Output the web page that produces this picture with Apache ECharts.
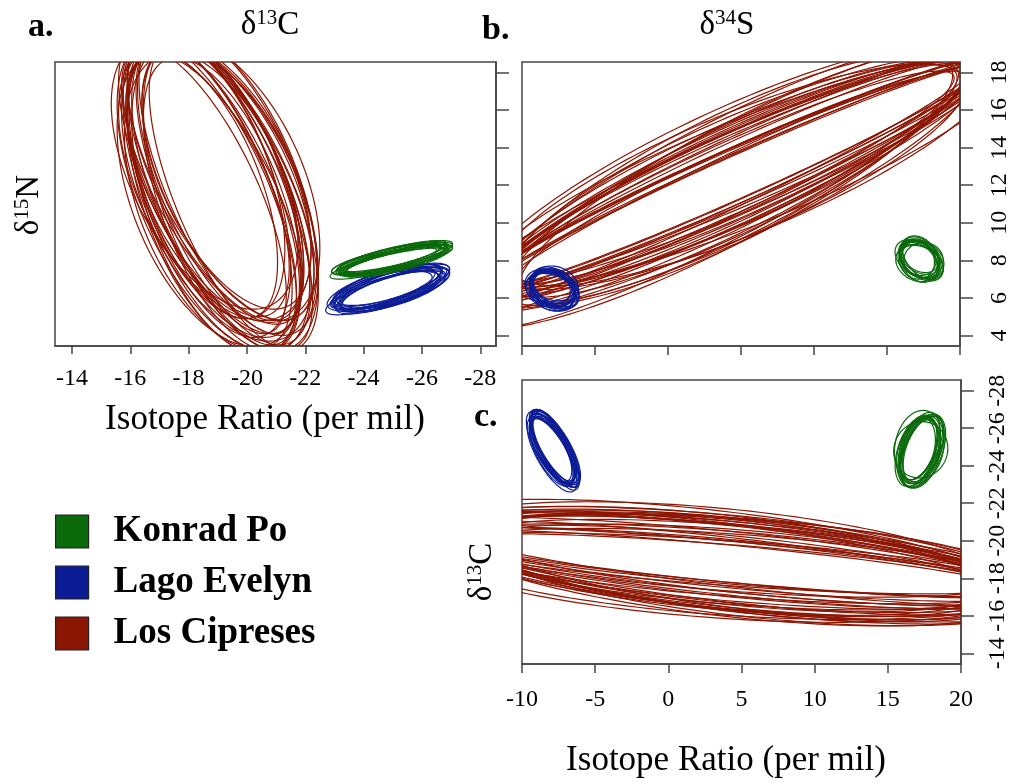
<!DOCTYPE html>
<html>
<head>
<meta charset="utf-8">
<script src="https://cdn.jsdelivr.net/npm/echarts@6/dist/echarts.min.js"></script>
<style>
html,body{margin:0;padding:0;background:#fff;}
#chart{width:1012px;height:783px;}
</style>
</head>
<body>
<div id="chart"></div>
<script>
// ---- Ellipse parameters: [centre x, centre y, sd x, sd y, correlation] ----
// Panel a: x = d13C, y = d15N
const aLosCipreses = [
  [-18.95,11.8,3.0,7.9,0.55],[-18.6,12.3,2.7,7.4,0.50],[-19.25,11.4,3.2,8.3,0.62],[-18.8,11.6,2.9,8.1,0.70],
  [-19.2,12.3,3.3,7.6,0.48],[-18.45,12.0,2.6,7.1,0.58],[-19.45,11.6,3.0,8.4,0.54],[-18.9,12.5,3.0,7.7,0.66],
  [-19.1,11.1,3.3,8.0,0.45],[-18.55,11.7,2.8,7.6,0.72],[-19.4,12.1,3.0,7.3,0.60],[-18.95,11.3,2.9,8.3,0.50],
  [-18.7,12.1,3.1,8.0,0.68],[-19.3,12.4,2.9,7.0,0.56],[-18.85,11.5,3.3,8.4,0.57],[-19.0,11.9,2.7,7.8,0.72],
  [-18.75,11.3,3.2,7.9,0.47],[-19.2,11.8,3.0,8.3,0.64],[-18.55,12.6,3.2,7.2,0.52],[-19.45,11.4,2.8,8.1,0.69],
  [-18.9,12.3,3.3,7.5,0.49],[-18.65,11.5,2.9,8.2,0.61],[-19.15,11.0,2.7,7.8,0.58],[-18.8,12.0,3.1,7.4,0.71],
  [-19.0,11.7,3.3,8.0,0.53],[-18.65,12.0,2.8,7.0,0.63],[-19.35,12.2,3.1,8.2,0.60],[-18.9,11.4,3.0,8.4,0.51],
  [-19.1,12.4,3.2,7.6,0.67],[-18.7,11.9,2.8,8.0,0.55]
];
const aLagoEvelyn = [
  [-24.85,6.5,1.85,1.15,-0.72],[-24.7,6.6,1.75,1.05,-0.68],[-25.0,6.4,1.95,1.25,-0.76],[-24.8,6.35,1.8,1.1,-0.70],
  [-24.95,6.6,2.0,1.2,-0.78],[-24.65,6.45,1.7,1.0,-0.64],[-25.05,6.55,1.9,1.3,-0.74],[-24.85,6.7,1.8,1.1,-0.69],
  [-24.75,6.3,2.05,1.2,-0.80],[-24.9,6.5,1.65,1.05,-0.62],[-25.1,6.45,1.85,1.15,-0.73],[-24.7,6.55,1.95,1.25,-0.71],
  [-24.9,6.4,1.75,1.0,-0.66],[-24.8,6.6,1.9,1.2,-0.75],[-25.0,6.35,1.8,1.1,-0.70],[-24.85,6.55,2.0,1.15,-0.77]
];
const aKonradPo = [
  [-25.0,8.05,1.85,0.8,-0.80],[-24.85,8.1,1.75,0.75,-0.78],[-25.1,8.0,1.95,0.85,-0.83],[-24.95,7.95,1.8,0.8,-0.76],
  [-25.05,8.15,2.0,0.9,-0.82],[-24.8,8.0,1.7,0.7,-0.74],[-25.15,8.1,1.9,0.85,-0.85],[-25.0,8.2,1.8,0.8,-0.79],
  [-24.9,7.9,2.05,0.9,-0.84],[-25.1,8.05,1.65,0.75,-0.72],[-25.2,8.0,1.85,0.8,-0.81],[-24.85,8.05,1.95,0.85,-0.77],
  [-25.05,7.95,1.75,0.7,-0.80],[-24.95,8.15,1.9,0.9,-0.83],[-25.1,7.9,1.8,0.8,-0.78],[-24.9,8.1,2.0,0.85,-0.80]
];
// Panel b: x = d34S, y = d15N
const bLosCipreses = [
  [4.5,12.4,17,6.01,0.976],[3.6,12.1,16,5.98,0.936],[5.4,12.7,18,6.18,0.874],[4.0,12.3,15.5,6.70,0.833],
  [5.0,12.5,17.5,6.02,0.959],[3.2,11.9,18.5,6.89,0.926],[5.9,12.8,16.5,6.14,0.833],[4.3,12.2,17,6.47,0.972],
  [4.8,12.6,16,5.87,0.913],[3.8,12.0,18,7.71,0.910],[5.2,12.4,15.5,5.68,0.942],[4.1,12.5,17.5,7.06,0.843],
  [4.6,12.3,18.5,6.62,0.978],[3.4,11.95,16.5,6.57,0.904],[5.6,12.9,17,6.03,0.930],[4.4,12.45,16,6.00,0.813],
  [5.1,12.6,18,6.33,0.967],[3.9,12.2,17,6.45,0.922],[4.7,12.35,15.5,6.31,0.872],[4.2,12.15,18.5,6.63,0.962],
  [5.5,12.7,16.5,6.23,0.901],[3.5,12.0,17.5,7.64,0.882],[4.9,12.5,17,5.99,0.979],[4.5,12.6,16,6.02,0.877],
  [3.7,12.1,18,6.78,0.956],[5.3,12.55,15.5,6.75,0.873],[4.0,12.25,17.5,6.14,0.969],[5.7,12.75,18.5,6.87,0.942],
  [3.3,11.85,16.5,6.58,0.890],[4.6,12.4,17,6.42,0.914]
];
const bLagoEvelyn = [
  [-7.9,6.5,1.55,0.95,-0.25],[-8.05,6.6,1.45,0.9,-0.15],[-7.75,6.4,1.65,1.0,-0.35],[-7.95,6.35,1.5,1.05,-0.2],
  [-7.8,6.6,1.7,0.9,-0.3],[-8.1,6.45,1.4,0.95,-0.1],[-7.7,6.55,1.6,1.1,-0.4],[-7.9,6.7,1.5,0.85,-0.25],
  [-8.0,6.3,1.75,1.0,-0.3],[-7.85,6.5,1.45,1.05,-0.05],[-7.65,6.45,1.55,0.9,-0.45],[-8.15,6.55,1.65,1.0,-0.2],
  [-7.9,6.4,1.5,0.95,-0.35],[-7.75,6.65,1.6,1.05,-0.15],[-8.0,6.5,1.7,0.9,-0.25],[-7.85,6.35,1.45,1.0,-0.3]
];
const bKonradPo = [
  [17.25,8.05,1.35,1.0,-0.3],[17.1,8.15,1.25,0.95,-0.2],[17.4,7.95,1.45,1.05,-0.4],[17.2,8.2,1.3,1.1,-0.25],
  [17.35,7.9,1.5,0.9,-0.35],[17.05,8.0,1.2,1.0,-0.1],[17.45,8.1,1.4,1.15,-0.45],[17.25,8.25,1.3,0.9,-0.3],
  [17.15,7.85,1.55,1.0,-0.2],[17.3,8.05,1.25,1.05,-0.5],[17.5,8.0,1.35,0.95,0.0],[17.0,8.1,1.45,1.0,-0.35],
  [17.3,7.95,1.3,1.1,-0.15],[17.2,8.15,1.4,0.9,-0.4],[17.4,8.05,1.5,1.0,-0.25],[17.1,7.9,1.35,1.05,-0.3]
];
// Panel c: x = d34S, y = d13C
const cLosCipreses = [
  [4.5,-18.75,20,1.80,0.832],[3.6,-18.95,19,1.96,0.580],[5.4,-18.55,21,2.99,0.597],[4.0,-18.55,21,2.90,0.362],
  [5.0,-18.8,20.5,2.26,0.817],[3.2,-19.1,22,2.46,0.581],[5.9,-18.5,19.5,3.03,0.515],[4.3,-18.8,20,1.63,0.675],
  [4.8,-18.6,18.5,2.82,0.624],[3.8,-18.9,21.5,2.92,0.516],[5.2,-18.7,19,2.14,0.711],[4.1,-18.65,20,3.19,0.533],
  [4.6,-18.85,22,1.89,0.814],[3.4,-18.95,18.5,2.74,0.541],[5.6,-18.5,20,2.16,0.555],[4.4,-18.6,21,2.80,0.375],
  [5.1,-18.6,21,2.11,0.747],[3.9,-18.85,20.5,2.80,0.660],[4.7,-18.7,18,2.75,0.490],[4.2,-18.8,22,2.45,0.719],
  [5.5,-18.55,19.5,2.59,0.527],[3.5,-19.0,21,3.21,0.588],[4.9,-18.7,20,1.67,0.778],[4.5,-18.6,18.5,2.29,0.485],
  [3.7,-18.95,21.5,2.56,0.671],[5.3,-18.65,19,2.98,0.542],[4.0,-18.75,20.5,1.98,0.776],[5.7,-18.5,22,2.83,0.583],
  [3.3,-19.05,19.5,3.03,0.451],[4.6,-18.75,20,2.58,0.581]
];
const cLagoEvelyn = [
  [-7.85,-24.85,1.6,1.9,0.72],[-8.0,-24.7,1.5,1.8,0.68],[-7.7,-25.0,1.7,2.0,0.76],[-7.9,-24.95,1.55,1.85,0.70],
  [-7.75,-24.75,1.65,2.05,0.78],[-8.05,-24.9,1.45,1.75,0.66],[-7.65,-24.8,1.6,1.95,0.75],[-7.85,-25.1,1.55,1.9,0.71],
  [-7.95,-24.6,1.7,2.0,0.73],[-7.8,-24.85,1.5,1.8,0.64],[-8.1,-25.0,1.6,1.9,0.72],[-7.7,-24.7,1.65,1.85,0.79],
  [-7.9,-24.9,1.5,2.0,0.69],[-7.8,-25.05,1.7,1.95,0.75],[-7.95,-24.8,1.55,1.8,0.71],[-7.75,-24.9,1.6,2.05,0.74]
];
const cKonradPo = [
  [17.2,-24.85,1.4,1.8,-0.45],[17.05,-24.95,1.3,1.7,-0.40],[17.35,-24.75,1.5,1.9,-0.50],[17.15,-24.7,1.35,1.85,-0.35],
  [17.3,-25.0,1.45,1.75,-0.55],[17.0,-24.9,1.25,1.65,-0.30],[17.4,-24.8,1.55,1.95,-0.45],[17.2,-25.05,1.35,1.8,-0.50],
  [17.1,-24.65,1.5,1.85,-0.25],[17.25,-24.85,1.85,1.5,-0.05],[17.45,-24.9,1.4,1.75,-0.48],[16.95,-24.8,1.45,1.9,-0.42],
  [17.3,-24.75,1.3,1.7,-0.38],[17.15,-25.0,1.7,1.95,-0.15],[17.35,-24.85,1.45,1.8,-0.52],[17.05,-24.75,1.35,1.85,-0.40]
];

// ---- Tick values ----
const ticksC13x = [-28,-26,-24,-22,-20,-18,-16,-14];
const ticksN15 = [4,6,8,10,12,14,16,18];
const ticksC13y = [-28,-26,-24,-22,-20,-18,-16,-14];

const groupNames = ['Konrad Po','Lago Evelyn','Los Cipreses'];
const groupColors = {'Konrad Po':'#0b6a0b','Lago Evelyn':'#0c1c96','Los Cipreses':'#8c1604'};

const FONT = "'Liberation Serif','Times New Roman',serif";
const AXC = '#454545';

function renderEllipse(params, api) {
  const cx = api.value(0), cy = api.value(1), sx = api.value(2), sy = api.value(3), r = api.value(4);
  const k = Math.sqrt(1 - r * r);
  const pts = [];
  const N = 160;
  for (let i = 0; i < N; i++) {
    const t = 2 * Math.PI * i / N;
    const c = Math.cos(t), s = Math.sin(t);
    pts.push(api.coord([cx + sx * c, cy + sy * (r * c + k * s)]));
  }
  const cs = params.coordSys;
  return {
    type: 'polygon',
    shape: { points: pts },
    style: { fill: 'none', stroke: api.visual('color'), lineWidth: 1.2 },
    clipPath: { type: 'rect', shape: { x: cs.x, y: cs.y, width: cs.width, height: cs.height } }
  };
}

function ellSeries(name, idx, data) {
  return {
    type: 'custom', name: name, xAxisIndex: idx, yAxisIndex: idx,
    renderItem: renderEllipse, data: data,
    dimensions: ['cx','cy','sx','sy','rho'], encode: { x: 0, y: 1 },
    itemStyle: { color: groupColors[name] }, silent: true, animation: false
  };
}

const tickLbl = { fontFamily: FONT, fontSize: 24, color: '#000' };
const supRich = {
  m: { fontFamily: FONT, fontSize: 33, color: '#000', lineHeight: 34 },
  s: { fontFamily: FONT, fontSize: 21, color: '#000', verticalAlign: 'top', lineHeight: 22 }
};

const option = {
  animation: false,
  backgroundColor: '#fff',
  grid: [
    { left: 55, top: 62, width: 441, height: 284, show: true, borderColor: AXC, borderWidth: 1.5 },
    { left: 522, top: 62, width: 439, height: 284, show: true, borderColor: AXC, borderWidth: 1.5 },
    { left: 522, top: 380, width: 439, height: 284, show: true, borderColor: AXC, borderWidth: 1.5 }
  ],
  xAxis: [
    { gridIndex: 0, type: 'value', min: -28.54, max: -13.42, inverse: true, position: 'bottom',
      splitLine: { show: false },
      axisLine: { onZero: false, lineStyle: { color: AXC, width: 1.5 } },
      axisTick: { length: 8, lineStyle: { color: AXC, width: 1.5 }, customValues: ticksC13x },
      axisLabel: Object.assign({ margin: 21, customValues: ticksC13x }, tickLbl) },
    { gridIndex: 1, type: 'value', min: -10, max: 20, interval: 5, position: 'bottom',
      splitLine: { show: false },
      axisLine: { onZero: false, lineStyle: { color: AXC, width: 1.5 } },
      axisTick: { length: 9, lineStyle: { color: AXC, width: 1.5 } },
      axisLabel: { show: false } },
    { gridIndex: 2, type: 'value', min: -10, max: 20, interval: 5, position: 'bottom',
      splitLine: { show: false },
      axisLine: { onZero: false, lineStyle: { color: AXC, width: 1.5 } },
      axisTick: { length: 9, lineStyle: { color: AXC, width: 1.5 } },
      axisLabel: Object.assign({ margin: 24 }, tickLbl) }
  ],
  yAxis: [
    { gridIndex: 0, type: 'value', min: 3.44, max: 18.56, position: 'right',
      splitLine: { show: false },
      axisLine: { onZero: false, lineStyle: { color: AXC, width: 1.5 } },
      axisTick: { length: 13, lineStyle: { color: AXC, width: 1.5 }, customValues: ticksN15 },
      axisLabel: { show: false } },
    { gridIndex: 1, type: 'value', min: 3.44, max: 18.56, position: 'right',
      splitLine: { show: false },
      axisLine: { onZero: false, lineStyle: { color: AXC, width: 1.5 } },
      axisTick: { length: 13, lineStyle: { color: AXC, width: 1.5 }, customValues: ticksN15 },
      axisLabel: Object.assign({ margin: 28, rotate: 90, align: 'center', verticalAlign: 'top', customValues: ticksN15 }, tickLbl) },
    { gridIndex: 2, type: 'value', min: -28.57, max: -13.43, inverse: true, position: 'right',
      splitLine: { show: false },
      axisLine: { onZero: false, lineStyle: { color: AXC, width: 1.5 } },
      axisTick: { length: 13, lineStyle: { color: AXC, width: 1.5 }, customValues: ticksC13y },
      axisLabel: Object.assign({ margin: 25, rotate: 90, align: 'center', verticalAlign: 'top', customValues: ticksC13y }, tickLbl) }
  ],
  legend: {
    data: groupNames, orient: 'vertical', left: 55, top: 513, padding: 0,
    itemWidth: 33, itemHeight: 33, itemGap: 14, icon: 'rect',
    itemStyle: { borderColor: '#222', borderWidth: 1.2 },
    textStyle: { fontFamily: FONT, fontSize: 37, fontWeight: 'bold', color: '#000', lineHeight: 33, padding: [0, 0, 0, 20] },
    selectedMode: false
  },
  series: [
    ellSeries('Los Cipreses', 0, aLosCipreses),
    ellSeries('Lago Evelyn', 0, aLagoEvelyn),
    ellSeries('Konrad Po', 0, aKonradPo),
    ellSeries('Los Cipreses', 1, bLosCipreses),
    ellSeries('Lago Evelyn', 1, bLagoEvelyn),
    ellSeries('Konrad Po', 1, bKonradPo),
    ellSeries('Los Cipreses', 2, cLosCipreses),
    ellSeries('Lago Evelyn', 2, cLagoEvelyn),
    ellSeries('Konrad Po', 2, cKonradPo)
  ],
  graphic: [
    { type: 'text', x: 28, y: 27, style: { text: 'a.', font: 'bold 34px ' + FONT, fill: '#000', align: 'left', verticalAlign: 'middle' } },
    { type: 'text', x: 482, y: 30, style: { text: 'b.', font: 'bold 34px ' + FONT, fill: '#000', align: 'left', verticalAlign: 'middle' } },
    { type: 'text', x: 474, y: 417, style: { text: 'c.', font: 'bold 34px ' + FONT, fill: '#000', align: 'left', verticalAlign: 'middle' } },
    { type: 'text', x: 270, y: 25, style: { text: '{m|δ}{s|13}{m|C}', align: 'center', verticalAlign: 'middle', rich: supRich } },
    { type: 'text', x: 727, y: 25, style: { text: '{m|δ}{s|34}{m|S}', align: 'center', verticalAlign: 'middle', rich: supRich } },
    { type: 'text', x: 29, y: 205, rotation: Math.PI / 2, style: { text: '{m|δ}{s|15}{m|N}', align: 'center', verticalAlign: 'middle', rich: supRich } },
    { type: 'text', x: 482, y: 572, rotation: Math.PI / 2, style: { text: '{m|δ}{s|13}{m|C}', align: 'center', verticalAlign: 'middle', rich: supRich } },
    { type: 'text', x: 265, y: 420, style: { text: 'Isotope Ratio (per mil)', font: '35px ' + FONT, fill: '#000', align: 'center', verticalAlign: 'middle' } },
    { type: 'text', x: 726, y: 761, style: { text: 'Isotope Ratio (per mil)', font: '35px ' + FONT, fill: '#000', align: 'center', verticalAlign: 'middle' } }
  ]
};

const chart = echarts.init(document.getElementById('chart'), null, { renderer: 'canvas' });
chart.setOption(option);
</script>
</body>
</html>
